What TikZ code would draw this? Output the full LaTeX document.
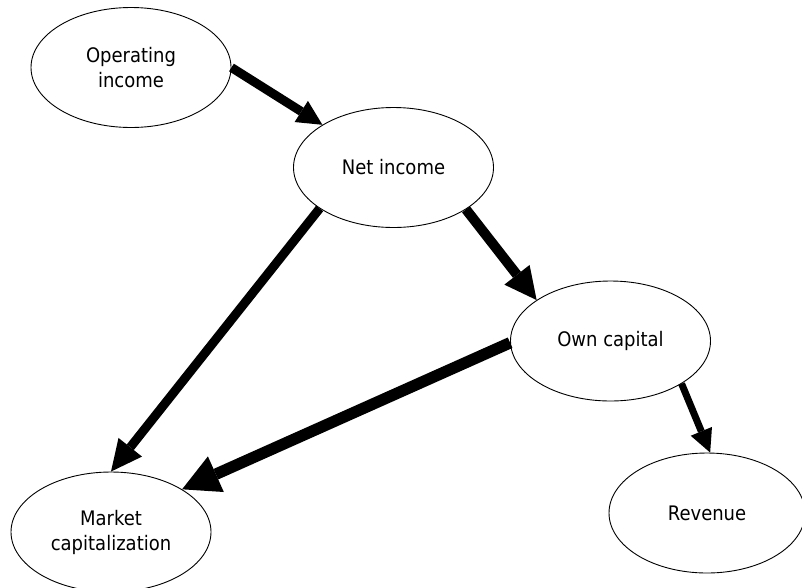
\documentclass[tikz,border=0pt]{standalone}
\usepackage{fontspec}
\setmainfont{DejaVu Sans}[FakeStretch=0.9]
\usetikzlibrary{shapes.geometric,arrows.meta}
\tikzset{
  ell/.style={ellipse,draw,line width=0.9pt,minimum width=200pt,minimum height=120pt,
    inner sep=0pt,align=center,font=\fontsize{20}{25}\selectfont},
  arr/.style n args={3}{draw,line width=#1,line cap=butt,
    -{Triangle[length=#2,width=#3,line width=0pt]}}
}
\begin{document}
\begin{tikzpicture}[x=1pt,y=-1pt]
\fill[white] (0,0) rectangle (802,587);
\useasboundingbox (0,0) rectangle (802,587);
\node[ell] (op)  at (131,67.5)  {Operating\\income};
\node[ell] (net) at (393.5,167.5) {Net income};
\node[ell] (own) at (610.5,341) {Own capital};
\node[ell] (mkt) at (111,532) {Market\\capitalization};
\node[ell,minimum width=196pt] (rev) at (707,513) {Revenue};
\draw[arr={9pt}{25pt}{25pt}] (op.0) -- (net.149);
\draw[arr={10pt}{32pt}{32pt}] (net.-30) -- (own.151);
\draw[arr={9pt}{31pt}{30pt}] (net.209) -- (mkt.90);
\draw[arr={11.5pt}{37pt}{39pt}] (own.181) -- (mkt.31);
\draw[arr={7pt}{23pt}{23pt}] (own.-31) -- (rev.87);
\end{tikzpicture}
\end{document}
